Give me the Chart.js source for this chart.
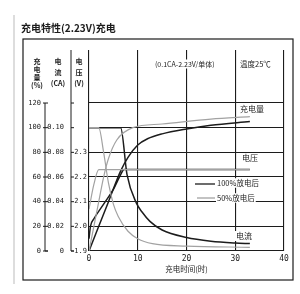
<!DOCTYPE html>
<html>
<head>
<meta charset="utf-8">
<script src="https://cdn.jsdelivr.net/npm/chart.js@4.4.0/dist/chart.umd.min.js"></script>
<style>
  html, body { margin: 0; padding: 0; background: #fff; }
</style>
</head>
<body>
<canvas id="chargeChart" width="300" height="294"></canvas>
<script>
// tick labels
const timeTicks = [0, 10, 20, 30, 40];
const pctTicks = [0, 20, 40, 60, 80, 100, 120];
const currentTicks = [0, 0.02, 0.04, 0.06, 0.08, 0.10];
const voltTicks = [1.9, 2.0, 2.1, 2.2, 2.3];

// after 100% discharge (black)
const fullChargeTime = [0, 2, 4, 6.5, 8, 10, 12, 15, 20, 25, 33];
const fullCharge = [0, 20, 40, 65, 76, 86, 91, 95, 99, 102, 105];
const fullVoltTime = [0, 0.3, 1, 3, 5, 6.5, 7.2, 15, 33];
const fullVolt = [1.95, 2.0, 2.03, 2.09, 2.15, 2.21, 2.23, 2.23, 2.23];
const fullCurrentTime = [0, 6.5, 7.8, 9.7, 11, 12.5, 15, 20, 25, 30, 33];
const fullCurrent = [0.10, 0.10, 0.062, 0.039, 0.031, 0.024, 0.017, 0.011, 0.008, 0.0065, 0.006];

// after 50% discharge (grey)
const halfChargeTime = [0, 1, 2, 3, 4, 5.7, 9, 15, 25, 33];
const halfCharge = [0, 20, 40, 60, 75, 90, 100, 103, 107, 109];
const halfVoltTime = [0, 1, 2, 15, 33];
const halfVolt = [2.07, 2.17, 2.23, 2.23, 2.23];
const halfCurrentTime = [0, 2, 3, 4, 5, 6, 8, 10, 13, 20, 33];
const halfCurrent = [0.10, 0.10, 0.08, 0.055, 0.038, 0.028, 0.016, 0.01, 0.006, 0.004, 0.003];

const ink = '#1c1c1c';
const grey = '#a2a2a2';
const numFont = { family: "'DejaVu Sans Mono'", size: 7 };
const cjk = "'Noto Sans CJK SC'";

function pts(xs, ys) {
    return xs.map((x, i) => ({ x: x, y: ys[i] }));
}

function line(data, axis, color, width) {
    return {
        data: data,
        yAxisID: axis,
        borderColor: color,
        borderWidth: width,
        pointRadius: 0,
        fill: false,
        cubicInterpolationMode: 'monotone'
    };
}

function label(ctx, text, x, y, size, bg) {
    ctx.font = size + 'px ' + cjk;
    const w = ctx.measureText(text).width;
    if (bg) {
        ctx.fillStyle = '#fff';
        ctx.fillRect(x - 1, y - size / 2 - 1, w + 2, size + 2);
    }
    ctx.fillStyle = ink;
    ctx.fillText(text, x, y);
}

// frame, axis spines and text of the printed sheet
const sheet = {
    id: 'sheet',
    afterDraw(chart) {
        const ctx = chart.ctx;
        const area = chart.chartArea;
        const yP = chart.scales.y;
        const yV = chart.scales.yV;
        ctx.save();
        ctx.strokeStyle = ink;
        ctx.lineWidth = 1.2;
        ctx.strokeRect(23, 39, 270, 241);

        ctx.strokeStyle = '#bbb';
        ctx.lineWidth = 1;
        ctx.beginPath();
        ctx.moveTo(14, 15);
        ctx.lineTo(14, 284);
        ctx.stroke();

        // percent / current spine
        ctx.strokeStyle = ink;
        ctx.lineWidth = 1;
        const xs = yP.right;
        ctx.beginPath();
        ctx.moveTo(xs, yP.getPixelForValue(120));
        ctx.lineTo(xs, area.bottom);
        ctx.lineTo(xs + 3, area.bottom);
        pctTicks.forEach(v => {
            const py = yP.getPixelForValue(v);
            ctx.moveTo(xs - 2, py);
            ctx.lineTo(xs + 3, py);
        });
        // voltage spine
        const xv = yV.left + 1;
        ctx.moveTo(xv, area.top);
        ctx.lineTo(xv, area.bottom);
        ctx.lineTo(xv + 3, area.bottom);
        pctTicks.forEach(v => {
            const py = yP.getPixelForValue(v);
            ctx.moveTo(xv, py);
            ctx.lineTo(xv + 3, py);
        });
        ctx.stroke();

        // legend samples
        ctx.lineWidth = 1.3;
        ctx.strokeStyle = ink;
        ctx.beginPath();
        ctx.moveTo(195, 184);
        ctx.lineTo(215, 184);
        ctx.stroke();
        ctx.strokeStyle = grey;
        ctx.beginPath();
        ctx.moveTo(197, 198);
        ctx.lineTo(215, 198);
        ctx.stroke();

        ctx.textBaseline = 'middle';
        ctx.textAlign = 'left';
        ctx.fillStyle = ink;
        ctx.font = 'bold 10px ' + cjk;
        ctx.fillText('充电特性(2.23V)充电', 21, 28);

        // stacked axis titles
        ctx.font = 'bold 7px ' + cjk;
        ctx.textAlign = 'center';
        ['充', '电', '量', '(%)'].forEach((c, i) => ctx.fillText(c, 37, 61 + i * 8));
        ['电', '流', '(CA)'].forEach((c, i) => ctx.fillText(c, 58, 61 + i * 11));
        ['电', '压', '(V)'].forEach((c, i) => ctx.fillText(c, 79, 61 + i * 11));

        ctx.textAlign = 'left';
        label(ctx, '(0.1CA-2.23V/单体)', 155, 64, 7, true);
        label(ctx, '温度25℃', 240, 64, 7.5, false);
        label(ctx, '充电量', 240, 109, 8, true);
        label(ctx, '电压', 242, 158, 8, true);
        label(ctx, '100%放电后', 217, 183, 7.5, true);
        label(ctx, '50%放电后', 217, 198, 7.5, true);
        label(ctx, '电流', 236, 236, 8, true);
        ctx.restore();
    }
};

new Chart(document.getElementById('chargeChart'), {
    type: 'line',
    data: {
        datasets: [
            line(pts(halfChargeTime, halfCharge), 'y', grey, 1.2),
            line(pts(halfVoltTime, halfVolt), 'yV', grey, 1.2),
            line(pts(halfCurrentTime, halfCurrent), 'yC', grey, 1.2),
            line(pts(fullChargeTime, fullCharge), 'y', ink, 1.5),
            line(pts(fullVoltTime, fullVolt), 'yV', ink, 1.5),
            line(pts(fullCurrentTime, fullCurrent), 'yC', ink, 1.5)
        ]
    },
    options: {
        responsive: false,
        animation: false,
        devicePixelRatio: 1,
        layout: { padding: { left: 20, right: 16, top: 50, bottom: 20 } },
        plugins: {
            legend: { display: false },
            tooltip: { enabled: false }
        },
        scales: {
            x: {
                type: 'linear',
                min: 0,
                max: 40,
                afterBuildTicks: s => { s.ticks = timeTicks.map(v => ({ value: v })); },
                afterFit: s => { s.height = 23; },
                ticks: { font: { family: "'DejaVu Sans Mono'", size: 8 }, color: ink, padding: 3, maxRotation: 0 },
                grid: { color: ink, lineWidth: 1.1, drawTicks: false },
                border: { display: false },
                title: {
                    display: true,
                    text: '充电时间(时)',
                    color: ink,
                    font: { family: cjk, size: 7.5 },
                    padding: { top: 1, bottom: 0 }
                }
            },
            y: {
                type: 'linear',
                position: 'left',
                weight: 3,
                min: 0,
                max: 163,
                afterBuildTicks: s => { s.ticks = pctTicks.map(v => ({ value: v })); },
                afterFit: s => { s.width = 25; },
                ticks: { font: numFont, color: ink, padding: 4 },
                grid: { color: ink, lineWidth: 1.1, drawTicks: false },
                border: { display: false }
            },
            yC: {
                type: 'linear',
                position: 'left',
                weight: 2,
                min: 0,
                max: 0.163,
                afterBuildTicks: s => { s.ticks = currentTicks.map(v => ({ value: v })); },
                afterFit: s => { s.width = 25; },
                ticks: {
                    font: numFont,
                    color: ink,
                    padding: 6,
                    callback: v => v === 0 ? '0' : v.toFixed(2)
                },
                grid: { display: false, drawTicks: false },
                border: { display: false }
            },
            yV: {
                type: 'linear',
                position: 'left',
                weight: 1,
                min: 1.9,
                max: 2.715,
                afterBuildTicks: s => { s.ticks = voltTicks.map(v => ({ value: v })); },
                afterFit: s => { s.width = 19; },
                ticks: {
                    font: numFont,
                    color: ink,
                    padding: 2,
                    callback: v => v.toFixed(1)
                },
                grid: { display: false, drawTicks: false },
                border: { display: false }
            }
        }
    },
    plugins: [sheet]
});
</script>
</body>
</html>
